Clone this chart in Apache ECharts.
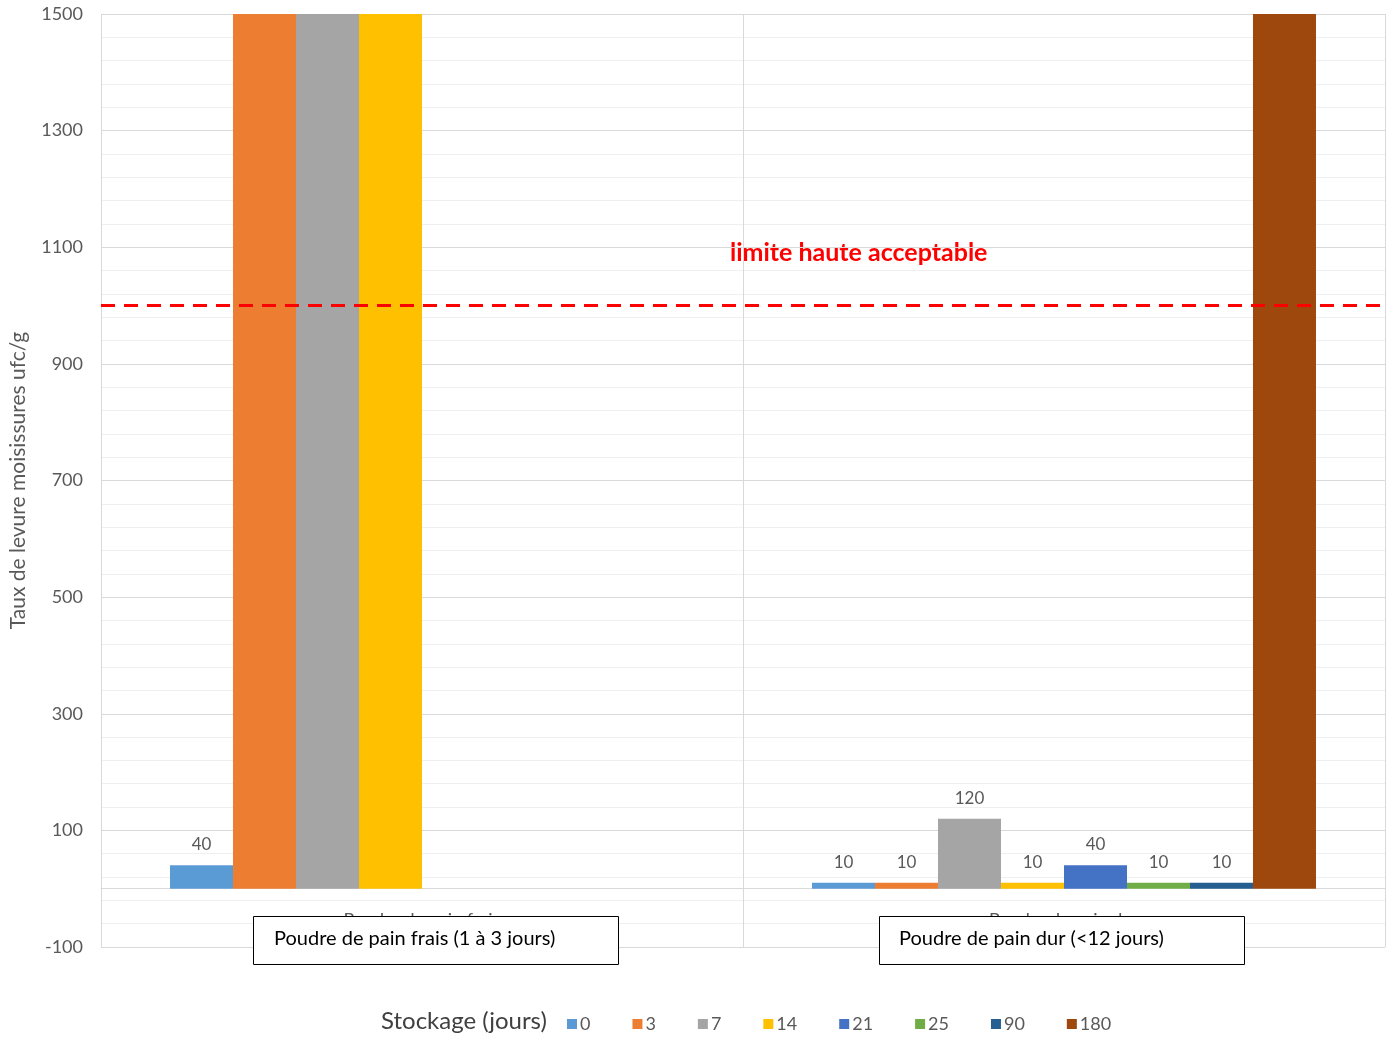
<!DOCTYPE html>
<html><head><meta charset="utf-8">
<script src="https://cdn.jsdelivr.net/npm/echarts@6/dist/echarts.min.js"></script>
<style>html,body{margin:0;padding:0;background:#fff}#c{width:1392px;height:1041px}</style>
</head><body><div id="c"></div>
<script>
const categories = ['Poudre de pain frais', 'Poudre de pain dur'];
const boxLabels = ['Poudre de pain frais (1 à 3 jours)', 'Poudre de pain dur (<12 jours)'];
const seriesNames = ['0', '3', '7', '14', '21', '25', '90', '180'];
// values above 1500 run off the top of the chart (clipped in the original)
const s0 = [40, 10];
const s3 = [1600, 10];
const s7 = [1600, 120];
const s14 = [1600, 10];
const s21 = [null, 40];
const s25 = [null, 10];
const s90 = [null, 10];
const s180 = [null, 1600];
const seriesValues = [s0, s3, s7, s14, s21, s25, s90, s180];
const yTicks = [-100, 100, 300, 500, 700, 900, 1100, 1300, 1500];
const limitValue = 1000;
const limitText = 'limite haute acceptable';
const legendTitle = 'Stockage (jours)';
const yName = 'Taux de levure moisissures ufc/g';

const colors = ['#5B9BD5', '#ED7D31', '#A5A5A5', '#FFC000', '#4472C4', '#70AD47', '#255E91', '#9E480E'];
const FONT = 'Lato';
const yMin = yTicks[0], yMax = yTicks[yTicks.length - 1];

const chart = echarts.init(document.getElementById('c'));
const series = seriesNames.map((n, i) => ({
  name: n, type: 'bar', data: seriesValues[i],
  barGap: '0%', barCategoryGap: '21.5%',
  itemStyle: { color: colors[i] },
  label: {
    show: true, position: 'top', distance: 12, color: '#595959', fontSize: 17, fontFamily: FONT,
    formatter: p => (p.value == null || p.value > yMax) ? '' : String(p.value)
  },
  markLine: i === 0 ? {
    silent: true, symbol: 'none', label: { show: false },
    lineStyle: { color: '#FF0000', type: [14, 9], width: 3 },
    data: [{ yAxis: limitValue }]
  } : undefined
}));

chart.setOption({
  animation: false,
  textStyle: { fontFamily: FONT },
  grid: { left: 101, right: 7, top: 14, bottom: 94 },
  xAxis: {
    type: 'category', data: categories,
    axisLine: { onZero: true, lineStyle: { color: '#D9D9D9', width: 1 } },
    axisTick: { show: false },
    axisLabel: { color: '#595959', fontSize: 18, fontFamily: FONT, margin: -36 },
    splitLine: { show: true, lineStyle: { color: '#D9D9D9', width: 1 } }
  },
  yAxis: {
    type: 'value', min: yMin, max: yMax, interval: 200,
    name: yName, nameLocation: 'middle', nameGap: 72, nameRotate: 90,
    nameTextStyle: { color: '#595959', fontSize: 21, fontFamily: FONT },
    axisLine: { show: false }, axisTick: { show: false },
    axisLabel: { color: '#595959', fontSize: 18, fontFamily: FONT, margin: 18, formatter: v => String(v) },
    splitLine: { lineStyle: { color: '#D9D9D9', width: 1 } },
    minorTick: { show: false, splitNumber: 5 },
    minorSplitLine: { show: true, lineStyle: { color: '#EFEFEF', width: 1 } }
  },
  legend: {
    left: 562, top: 1010, itemWidth: 10, itemHeight: 10, itemGap: 42,
    icon: 'rect',
    textStyle: { color: '#595959', fontSize: 18, fontFamily: FONT, padding: [0, 0, 0, -2] },
    data: seriesNames
  },
  series: series,
  graphic: [
    { type: 'text', left: 381, top: 1009, style: { text: legendTitle, fill: '#404040', fontSize: 24, fontFamily: FONT } },
    { type: 'text', left: 730, top: 240, style: { text: limitText, fill: '#FF0000', fontSize: 25, fontWeight: 'bold', fontFamily: FONT } },
    { type: 'rect', left: 253, top: 916, z: 100, shape: { width: 365, height: 48 }, style: { fill: '#fff', stroke: '#000', lineWidth: 1 } },
    { type: 'text', left: 274, top: 929, z: 101, style: { text: boxLabels[0], fill: '#000', fontSize: 20, fontFamily: FONT } },
    { type: 'rect', left: 879, top: 916, z: 100, shape: { width: 365, height: 48 }, style: { fill: '#fff', stroke: '#000', lineWidth: 1 } },
    { type: 'text', left: 899, top: 929, z: 101, style: { text: boxLabels[1], fill: '#000', fontSize: 20, fontFamily: FONT } }
  ]
});
</script></body></html>
